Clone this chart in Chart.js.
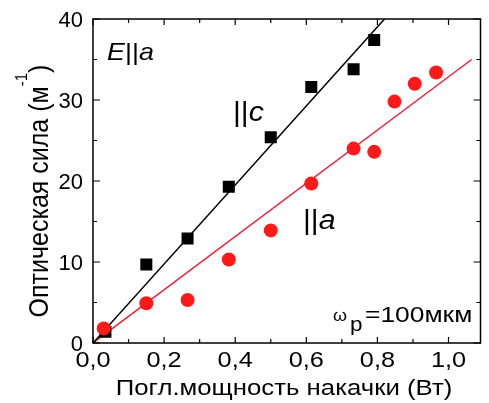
<!DOCTYPE html>
<html>
<head>
<meta charset="utf-8">
<script src="https://cdn.jsdelivr.net/npm/chart.js@4/dist/chart.umd.min.js"></script>
<style>
  html, body { margin:0; padding:0; background:#fff; }
  #wrap { width:489px; height:403px; }
</style>
</head>
<body>
<div id="wrap"><canvas id="c" width="489" height="403"></canvas></div>
<script>
// data
const powerC = [0.035, 0.150, 0.266, 0.382, 0.500, 0.614, 0.733, 0.791];
const forceC = [1.4, 9.7, 12.9, 19.3, 25.4, 31.6, 33.8, 37.4];
const powerA = [0.030, 0.150, 0.266, 0.382, 0.500, 0.614, 0.733, 0.791, 0.848, 0.905, 0.965];
const forceA = [1.8, 4.9, 5.3, 10.3, 13.9, 19.7, 24.0, 23.6, 29.8, 32.0, 33.4];
const fitCx = [0, 0.82], fitCy = [0, 40];
const fitAx = [0, 1.065], fitAy = [0, 35.0];
const xMajor = [0, 0.2, 0.4, 0.6, 0.8, 1.0];
const yMajor = [0, 10, 20, 30, 40];

const RED = '#ff1a1a';
const FONT = '"Liberation Sans", Arial, sans-serif';
const pts = (xs, ys) => xs.map((x, i) => ({x, y: ys[i]}));

// draws text stretched sideways by sx, returns drawn width
function txt(ctx, s, x, y, font, align, sx){
  ctx.save();
  ctx.font = font;
  const w = ctx.measureText(s).width * sx;
  const x0 = align === 'center' ? x - w / 2 : align === 'right' ? x - w : x;
  ctx.translate(x0, y);
  ctx.scale(sx, 1);
  ctx.textAlign = 'left';
  ctx.fillText(s, 0, 0);
  ctx.restore();
  return w;
}

// frame, inward ticks, labels and texts
const deco = {
  id: 'deco',
  afterDraw(chart){
    const {ctx, chartArea: a, scales:{x, y}} = chart;
    ctx.save();
    ctx.strokeStyle = '#000';
    ctx.lineWidth = 1.5;
    ctx.strokeRect(a.left, a.top, a.right - a.left, a.bottom - a.top);
    ctx.lineWidth = 1.2;
    ctx.beginPath();
    for (let v = 0; v <= 1.09; v += 0.1){
      const px = x.getPixelForValue(v);
      const len = Math.round(v * 10) % 2 === 0 ? 6 : 4;
      ctx.moveTo(px, a.bottom); ctx.lineTo(px, a.bottom - len);
      ctx.moveTo(px, a.top); ctx.lineTo(px, a.top + len);
    }
    for (let v = 0; v <= 40; v += 5){
      const py = y.getPixelForValue(v);
      const len = v % 10 === 0 ? 7 : 4;
      ctx.moveTo(a.left, py); ctx.lineTo(a.left + len, py);
      ctx.moveTo(a.right, py); ctx.lineTo(a.right - len, py);
    }
    ctx.stroke();

    ctx.fillStyle = '#000';
    ctx.textBaseline = 'alphabetic';
    // tick labels
    xMajor.forEach(v => txt(ctx, v.toFixed(1).replace('.', ','), x.getPixelForValue(v), 367, '22px ' + FONT, 'center', 1.15));
    yMajor.forEach(v => txt(ctx, String(v), 83, y.getPixelForValue(v) + 8, '22px ' + FONT, 'right', 1.0));

    // E||a
    let cx = 107;
    cx += txt(ctx, 'E', cx, 60, 'italic 24px ' + FONT, 'left', 1.12);
    cx += txt(ctx, '||', cx, 60, '24px ' + FONT, 'left', 1.12);
    txt(ctx, 'a', cx, 60, 'italic 24px ' + FONT, 'left', 1.12);
    // ||c and ||a
    cx = 233;
    cx += txt(ctx, '||', cx, 121, '27px ' + FONT, 'left', 1.12);
    txt(ctx, 'c', cx, 121, 'italic 27px ' + FONT, 'left', 1.12);
    cx = 303;
    cx += txt(ctx, '||', cx, 229, '27px ' + FONT, 'left', 1.12);
    txt(ctx, 'a', cx, 229, 'italic 27px ' + FONT, 'left', 1.12);
    // omega_p = 100 mkm
    txt(ctx, 'ω', 333, 321, '16px ' + FONT, 'left', 1.12);
    txt(ctx, 'p', 350, 331, '20px ' + FONT, 'left', 1.12);
    txt(ctx, '=100мкм', 365, 322, '22px ' + FONT, 'left', 1.2);

    // x title
    txt(ctx, 'Погл.мощность накачки (Вт)', 284, 395, '22.5px ' + FONT, 'center', 1.145);

    // y title with superscript, rotated
    ctx.save();
    ctx.translate(48, 191);
    ctx.rotate(-Math.PI / 2);
    ctx.scale(1, 1.12);
    const main = 'Оптическая сила (м', sup = '-1', end = ')';
    ctx.font = '25px ' + FONT;
    const wm = ctx.measureText(main).width, we = ctx.measureText(end).width;
    ctx.font = '15px ' + FONT;
    const ws = ctx.measureText(sup).width;
    const sx0 = -(wm + ws + we) / 2;
    ctx.textAlign = 'left';
    ctx.font = '25px ' + FONT;
    ctx.fillText(main, sx0, 0);
    ctx.font = '15px ' + FONT;
    ctx.fillText(sup, sx0 + wm, -19);
    ctx.font = '25px ' + FONT;
    ctx.fillText(end, sx0 + wm + ws, 0);
    ctx.restore();
    ctx.restore();
  }
};

new Chart(document.getElementById('c'), {
  type: 'scatter',
  data: {
    datasets: [
      { data: pts(powerA, forceA), pointStyle: 'circle', pointRadius: 7, backgroundColor: RED, borderWidth: 0, order: 0 },
      { data: pts(powerC, forceC), pointStyle: 'rect', pointRadius: 8.5, backgroundColor: '#000', borderWidth: 0, order: 1 },
      { type: 'line', data: pts(fitCx, fitCy), borderColor: '#000', borderWidth: 1.5, pointRadius: 0, fill: false, order: 2 },
      { type: 'line', data: pts(fitAx, fitAy), borderColor: '#f0203a', borderWidth: 1.5, pointRadius: 0, fill: false, order: 3 }
    ]
  },
  options: {
    responsive: false,
    animation: false,
    layout: { padding: { top: 19, right: 6, left: 0, bottom: 0 } },
    plugins: { legend: { display: false }, tooltip: { enabled: false } },
    scales: {
      x: {
        type: 'linear', min: 0, max: 1.09,
        afterFit: s => { s.height = 60; },
        grid: { display: false },
        border: { display: false },
        ticks: { display: false }
      },
      y: {
        min: 0, max: 40,
        afterFit: s => { s.width = 93; },
        grid: { display: false },
        border: { display: false },
        ticks: { display: false }
      }
    }
  },
  plugins: [deco]
});
</script>
</body>
</html>
